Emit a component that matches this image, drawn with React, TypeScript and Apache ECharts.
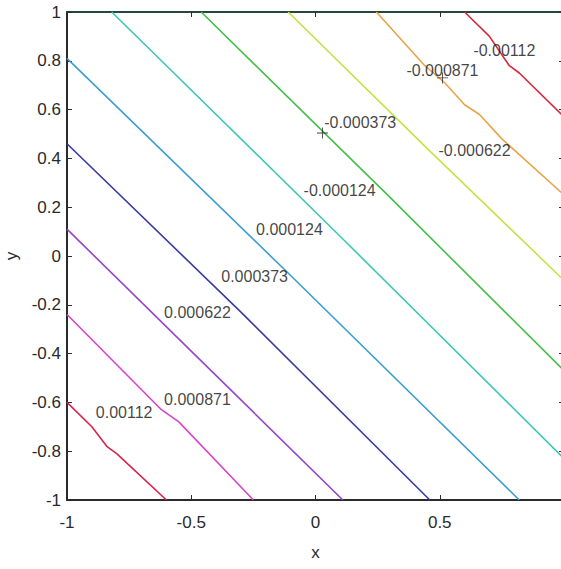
import React, { useEffect, useRef } from "react";
import * as echarts from "echarts";

// contour levels (labels) and their line colours
const levelLabels = [
  "0.00112", "0.000871", "0.000622", "0.000373", "0.000124",
  "-0.000124", "-0.000373", "-0.000622", "-0.000871", "-0.00112",
];
const levelColors = [
  "#d8234a", "#d844c8", "#9446c8", "#3a3aa6", "#3c9ed0",
  "#3ec8b4", "#42bf46", "#c6e046", "#e8a447", "#d42a3c",
];
// contour polylines, in data coordinates (x, y)
const contour1 = [[-1, -0.6], [-0.9, -0.7], [-0.84, -0.78], [-0.8, -0.81], [-0.6, -1]];
const contour2 = [[-1, -0.24], [-0.62, -0.63], [-0.55, -0.68], [-0.25, -1]];
const contour3 = [[-1, 0.11], [-0.45, -0.44], [0.11, -1]];
const contour4 = [[-1, 0.46], [-0.3, -0.23], [0.46, -1]];
const contour5 = [[-1, 0.81], [-0.1, -0.08], [0.82, -1]];
const contour6 = [[-0.82, 1], [0.1, 0.08], [1, -0.83]];
const contour7 = [[-0.46, 1], [0.3, 0.24], [1, -0.47]];
const contour8 = [[-0.11, 1], [0.45, 0.44], [1, -0.1]];
const contour9 = [[0.245, 1], [0.44, 0.78], [0.52, 0.71], [0.6, 0.62], [0.66, 0.58], [0.75, 0.48], [1, 0.25]];
const contour10 = [[0.6, 1], [0.7, 0.9], [0.78, 0.78], [0.82, 0.75], [1, 0.57]];
const contours = [contour1, contour2, contour3, contour4, contour5, contour6, contour7, contour8, contour9, contour10];

// where each level's label sits (data coordinates)
const labelX = [-0.77, -0.475, -0.475, -0.245, -0.105, 0.097, 0.18, 0.64, 0.511, 0.76];
const labelY = [-0.643, -0.59, -0.23, -0.086, 0.107, 0.27, 0.549, 0.434, 0.762, 0.844];

// data-cursor markers
const cursorPoints = [[0.028, 0.504], [0.511, 0.73]];

const xMin = -1, xMax = 1, xStep = 0.5;
const yMin = -1, yMax = 1, yStep = 0.2;

export default function App() {
  const ref = useRef<HTMLDivElement>(null);
  useEffect(() => {
    if (!ref.current) return;
    const chart = echarts.init(ref.current, null, { renderer: "svg" });
    const font = "Liberation Sans, Arial, sans-serif";
    const axisColor = "#2b2b2b";
    const lineSeries = contours.map((pts, i) => ({
      type: "line",
      data: pts,
      showSymbol: false,
      symbol: "none",
      lineStyle: { color: levelColors[i], width: 1.6 },
      silent: true,
      z: 3,
    }));
    const option: any = {
      animation: false,
      grid: { left: 67, top: 12, width: 497, height: 488, containLabel: false, outerBoundsMode: "none" },
      xAxis: [
        {
          type: "value", min: xMin, max: xMax, interval: xStep,
          name: "x", nameLocation: "middle", nameGap: 44,
          nameTextStyle: { color: "#2a2a2a", fontSize: 17, fontFamily: font },
          axisLine: { show: true, onZero: false, lineStyle: { color: axisColor, width: 2 } },
          axisTick: { show: true, inside: true, length: 5, lineStyle: { color: axisColor } },
          axisLabel: { color: "#2a2a2a", fontSize: 17, fontFamily: font, margin: 14,
            formatter: (v: number) => (v === 1 ? "" : String(v)) },
          splitLine: { show: false },
        },
        {
          type: "value", min: xMin, max: xMax, interval: xStep, position: "top",
          axisLine: { show: true, onZero: false, lineStyle: { color: "#26473d", width: 2 } },
          axisTick: { show: true, inside: true, length: 5, lineStyle: { color: axisColor } },
          axisLabel: { show: false },
          splitLine: { show: false },
        },
      ],
      yAxis: [
        {
          type: "value", min: yMin, max: yMax, interval: yStep,
          name: "y", nameLocation: "middle", nameGap: 47,
          nameTextStyle: { color: "#2a2a2a", fontSize: 17, fontFamily: font },
          axisLine: { show: true, onZero: false, lineStyle: { color: axisColor, width: 2 } },
          axisTick: { show: true, inside: true, length: 5, lineStyle: { color: axisColor } },
          axisLabel: { color: "#2a2a2a", fontSize: 17, fontFamily: font, margin: 6,
            formatter: (v: number) => String(Math.round(v * 10) / 10) },
          splitLine: { show: false },
        },
        {
          type: "value", min: yMin, max: yMax, interval: yStep, position: "right",
          axisLine: { show: true, onZero: false, lineStyle: { color: axisColor, width: 2 } },
          axisTick: { show: true, inside: true, length: 5, lineStyle: { color: axisColor } },
          axisLabel: { show: false },
          splitLine: { show: false },
        },
      ],
      series: [
        ...lineSeries,
        {
          type: "scatter",
          data: labelX.map((x, i) => ({ value: [x, labelY[i]], name: levelLabels[i] })),
          symbolSize: 0,
          silent: true,
          z: 5,
          label: {
            show: true, position: "inside", formatter: (p: any) => p.name,
            color: "#111", fontSize: 16, fontFamily: font,
          },
        },
        {
          type: "scatter",
          data: cursorPoints,
          symbol: "path://M4.6,0H5.4V10H4.6ZM0,4.6H10V5.4H0Z",
          symbolSize: 11,
          itemStyle: { color: "#111" },
          silent: true,
          z: 6,
        },
      ],
    };
    chart.setOption(option);
    return () => chart.dispose();
  }, []);
  return (
    <div
      ref={ref}
      style={{ position: "absolute", left: 0, top: 0, width: 561, height: 569, background: "#fff" }}
    />
  );
}
